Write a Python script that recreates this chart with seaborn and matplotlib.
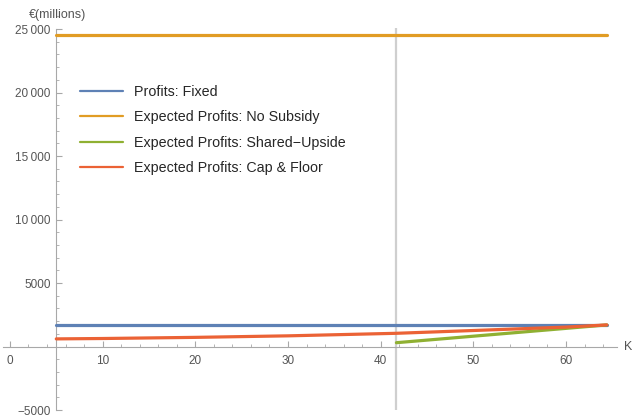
import matplotlib
matplotlib.use("Agg")
import matplotlib.pyplot as plt
import seaborn as sns
import pandas as pd
from matplotlib.ticker import FixedLocator, MultipleLocator

sns.set_style("white")
plt.rcParams['font.family'] = ['Liberation Sans', 'DejaVu Sans']

# Data
k_full = [5, 64.4]
fixed_profit = [1700, 1700]
no_subsidy = [24500, 24500]

k_shared = [41.7, 64.4]
shared_upside = [300, 1700]

k_cap = [5, 10, 20, 30, 41.7, 50, 60, 64.4]
cap_floor = [600, 630, 720, 840, 1040, 1260, 1530, 1700]

k_marker = 41.7

labels = ["Profits: Fixed", "Expected Profits: No Subsidy",
          "Expected Profits: Shared\u2212Upside", "Expected Profits: Cap & Floor"]
colors = ["#5E81B5", "#E19C24", "#8FB032", "#EB6235"]

fig = plt.figure(figsize=(6.32, 4.19), dpi=100)
ax = fig.add_axes([3/632, 9/419, 614/632, 400/419])

ax.vlines(k_marker, -5000, 25100, color="#cfcfcf", lw=1.6, zorder=1)

series = [(k_full, fixed_profit), (k_full, no_subsidy), (k_shared, shared_upside), (k_cap, cap_floor)]
for (xs, ys), lab, c in zip(series, labels, colors):
    df = pd.DataFrame({"K": xs, "v": ys})
    sns.lineplot(data=df, x="K", y="v", ax=ax, color=c, lw=2.3, label=lab, zorder=3)

ax.set_xlim(-0.75, 65.5)
ax.set_ylim(-5000, 26500)

for s in ["top", "right"]:
    ax.spines[s].set_visible(False)
ax.spines["left"].set_position(("data", 5))
ax.spines["bottom"].set_position(("data", 0))
ax.spines["left"].set_bounds(-5000, 25000)
for s in ["left", "bottom"]:
    ax.spines[s].set_color("#a8a8a8")
    ax.spines[s].set_linewidth(0.8)

ax.xaxis.set_major_locator(FixedLocator([0, 10, 20, 30, 40, 50, 60]))
ax.xaxis.set_minor_locator(MultipleLocator(2))
ax.set_xticklabels(["0", "10", "20", "30", "40", "50", "60"])
yt = [-5000, 5000, 10000, 15000, 20000, 25000]
ax.yaxis.set_major_locator(FixedLocator(yt))
ax.set_yticklabels(["\u22125000", "5000", "10\u2009000", "15\u2009000", "20\u2009000", "25\u2009000"])
ax.yaxis.set_minor_locator(MultipleLocator(1000))
ax.tick_params(which="both", direction="in", bottom=True, left=True, top=False, right=False,
               colors="#a8a8a8", labelcolor="#555555", labelsize=8.5)
ax.tick_params(which="major", length=4, width=0.8)
ax.tick_params(which="minor", length=2.5, width=0.6)
ax.tick_params(axis="x", pad=6)
ax.tick_params(axis="y", pad=4)
ax.set_xlabel("")
ax.set_ylabel("")

fig.text(57/632, 1 - 15/419, "\u20ac(millions)", ha="center", va="center", fontsize=9, color="#555555")
fig.text(628/632, 1 - 347/419, "K", ha="center", va="center", fontsize=9, color="#555555")

leg = ax.legend(loc="upper left", bbox_to_anchor=(67/632, 1 - 72/419), bbox_transform=fig.transFigure,
                frameon=False, fontsize=10.3, handlelength=3.0, handletextpad=0.75, labelspacing=0.8)
for h in leg.get_lines():
    h.set_linewidth(1.6)

fig.savefig("out.png", dpi=100)
